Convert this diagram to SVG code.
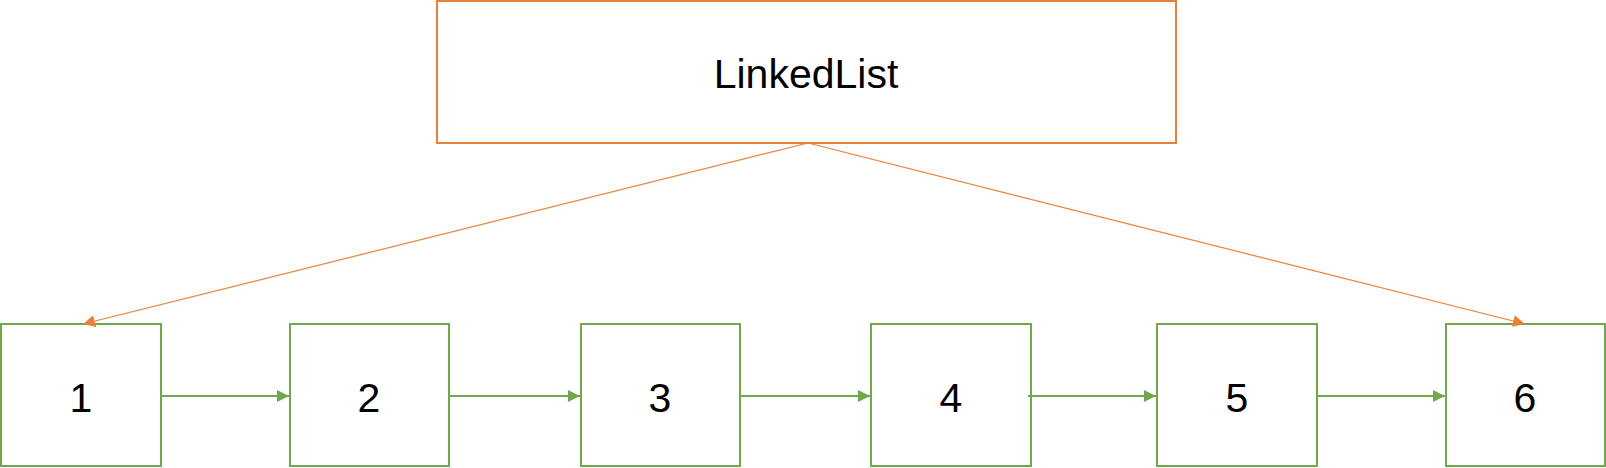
<svg xmlns="http://www.w3.org/2000/svg" width="1606" height="468" viewBox="0 0 1606 468">
<style>
.box{fill:#fff;stroke:#71a84f;stroke-width:2}
.top{fill:#fff;stroke:#e8823a;stroke-width:2}
.lbl{font-family:"Liberation Sans",Arial,sans-serif;font-size:41px;fill:#000;text-anchor:middle}
.g{stroke:#71a84f;stroke-width:2;fill:none;marker-end:url(#ag)}
.o{stroke:#e8823a;stroke-width:1.2;fill:none;marker-end:url(#ao)}
</style>
<defs>
<marker id="ag" viewBox="0 0 12 12" refX="12" refY="6" markerWidth="12" markerHeight="12" markerUnits="userSpaceOnUse" orient="auto"><path d="M0,0 L12,6 L0,12 Z" fill="#71a84f"/></marker>
<marker id="ao" viewBox="0 0 12 12" refX="12" refY="6" markerWidth="12" markerHeight="12" markerUnits="userSpaceOnUse" orient="auto"><path d="M0,0 L12,6 L0,12 Z" fill="#e8823a"/></marker>
</defs>
<g id="linkedlist"><rect class="top" x="437" y="1" width="739" height="142"/><text class="lbl" x="806" y="88">LinkedList</text></g>
<g id="n1"><rect class="box" x="1" y="324" width="160" height="142"/><text class="lbl" x="81" y="412">1</text></g>
<g id="n2"><rect class="box" x="290" y="324" width="159" height="142"/><text class="lbl" x="369" y="412">2</text></g>
<g id="n3"><rect class="box" x="581" y="324" width="159" height="142"/><text class="lbl" x="660" y="412">3</text></g>
<g id="n4"><rect class="box" x="871" y="324" width="160" height="142"/><text class="lbl" x="951" y="412">4</text></g>
<g id="n5"><rect class="box" x="1157" y="324" width="160" height="142"/><text class="lbl" x="1237" y="412">5</text></g>
<g id="n6"><rect class="box" x="1446" y="324" width="159" height="142"/><text class="lbl" x="1525" y="412">6</text></g>
<g id="connectors">
<line class="g" x1="161" y1="396" x2="289" y2="396"/>
<line class="g" x1="449" y1="396" x2="580" y2="396"/>
<line class="g" x1="740" y1="396" x2="870" y2="396"/>
<line class="g" x1="1028" y1="396" x2="1156" y2="396"/>
<line class="g" x1="1317" y1="396" x2="1445" y2="396"/>
<line class="o" x1="808" y1="143" x2="83" y2="324"/>
<line class="o" x1="808" y1="143" x2="1525" y2="324"/>
</g>
</svg>
